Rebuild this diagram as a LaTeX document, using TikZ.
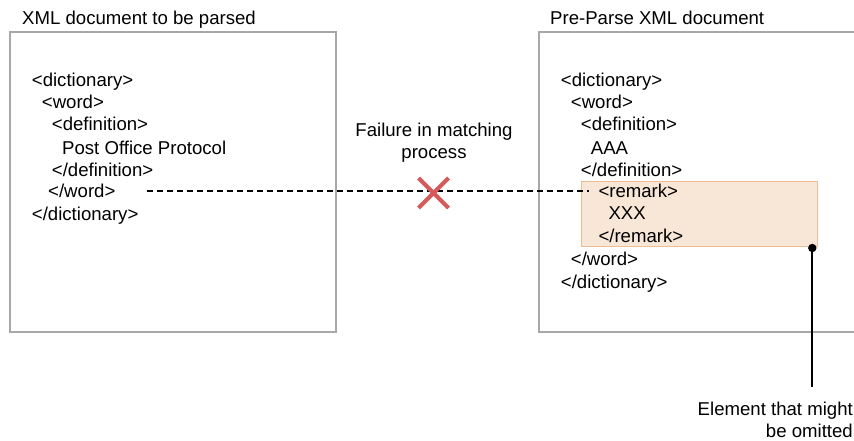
\documentclass[tikz,border=0pt]{standalone}
\usepackage{fontspec}
\setmainfont{Liberation Sans}
\definecolor{boxgray}{HTML}{A8A8A8}
\definecolor{remfill}{HTML}{F8E6D6}
\definecolor{remedge}{HTML}{EDBE96}
\definecolor{xred}{HTML}{D65A5A}
\begin{document}
\begin{tikzpicture}[x=1pt,y=-1pt,
  txt/.style={inner sep=0pt,anchor=base west,font=\fontsize{18.6}{22.2}\selectfont},
  doc/.style={draw=boxgray,line width=1.5pt}]
\useasboundingbox (0,0) rectangle (854,441);
% frames
\draw[doc] (10,32) rectangle (336,332);
\draw[doc] (860,32) -- (539,32) -- (539,332) -- (860,332);
\node[txt] (t1) at (22,25) {XML document to be parsed};
\node[txt] (t2) at (550,25) {Pre-Parse XML document};
% remark highlight
\node[draw=remedge,fill=remfill,line width=1pt,inner sep=0pt,minimum width=236.6pt,minimum height=65.3pt,anchor=north west] (rem) at (580.7,180.7) {};
% left text
\node[txt] (l1) at (31.7,87) {<dictionary>};
\node[txt] (l2) at (41.7,109) {<word>};
\node[txt] (l3) at (51.7,131) {<definition>};
\node[txt] (l4) at (62,154) {Post Office Protocol};
\node[txt] (l5) at (51.7,176) {</definition>};
\node[txt] (l6) at (48,197) {</word>};
\node[txt] (l7) at (31.7,220) {</dictionary>};
% right text
\node[txt] (r1) at (560.7,87) {<dictionary>};
\node[txt] (r2) at (570.7,109) {<word>};
\node[txt] (r3) at (580.7,131) {<definition>};
\node[txt] (r4) at (590.7,154) {AAA};
\node[txt] (r5) at (580.7,176) {</definition>};
\node[txt] (r6) at (598.3,197) {<remark>};
\node[txt] (r7) at (608.3,219) {XXX};
\node[txt] (r8) at (598.3,242) {</remark>};
\node[txt] (r9) at (570.7,265) {</word>};
\node[txt] (r10) at (560.7,288) {</dictionary>};
% dashed connection
\coordinate (ds) at (147,191);
\coordinate (de) at (589,191);
\draw[line width=1.5pt,dash pattern=on 6pt off 4pt] (ds) -- (de);
% failure label and cross
\node[txt,anchor=base] (fail) at (434,136) {Failure in matching};
\node[txt,anchor=base] (fail2) at (434,158) {process};
\coordinate (xc) at (433.5,193);
\draw[xred,line width=4.2pt] ([shift={(-15,-15)}]xc) -- ([shift={(15,15)}]xc)
  ([shift={(-15,15)}]xc) -- ([shift={(15,-15)}]xc);
% pointer
\coordinate (dot) at (812.3,248);
\coordinate (pend) at (812.3,387);
\draw[line width=1.8pt] (dot) -- (pend);
\fill (dot) circle (4.2pt);
\node[txt,anchor=base east] (e1) at (853,415) {Element that might};
\node[txt,anchor=base east] (e2) at (853,437) {be omitted};
\end{tikzpicture}
\end{document}
